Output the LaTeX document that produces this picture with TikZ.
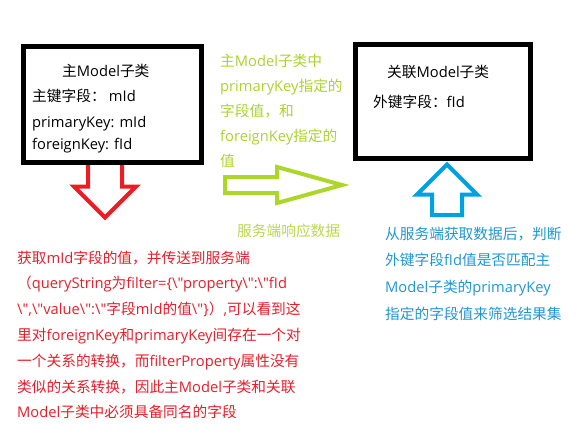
\documentclass[tikz,border=0pt]{standalone}
\usepackage{fontspec}
\setmainfont{Open Sans}
\newfontfamily\cjkfont{Noto Sans CJK SC}
\newfontfamily\latfont{Open Sans}
% switch between Latin and CJK fonts inside a line
\XeTeXinterchartokenstate=1
\newcount\cjkcode
\cjkcode="4E00
\loop
  \XeTeXcharclass\cjkcode=1
  \advance\cjkcode by 1
\ifnum\cjkcode<"A000 \repeat
\XeTeXcharclass`（=2
\XeTeXcharclass`）=3
\XeTeXcharclass`，=3
\XeTeXcharclass`：=3
\XeTeXinterchartoks 0 1 = {\cjkfont}
\XeTeXinterchartoks 0 2 = {\cjkfont}
\XeTeXinterchartoks 0 3 = {\cjkfont}
\XeTeXinterchartoks 4095 1 = {\cjkfont}
\XeTeXinterchartoks 4095 2 = {\cjkfont}
\XeTeXinterchartoks 4095 3 = {\cjkfont}
\XeTeXinterchartoks 1 0 = {\latfont}
\XeTeXinterchartoks 2 0 = {\latfont}
\XeTeXinterchartoks 3 0 = {\latfont}
\XeTeXinterchartoks 4095 0 = {\latfont}
\usepackage{tikz}
\usetikzlibrary{shapes.arrows,positioning}
\definecolor{arrowred}{RGB}{237,28,36}
\definecolor{textred}{RGB}{230,30,42}
\definecolor{arrowgreen}{RGB}{172,214,42}
\definecolor{textgreen}{RGB}{172,210,45}
\definecolor{respgreen}{RGB}{186,214,80}
\definecolor{arrowblue}{RGB}{0,160,228}
\definecolor{textblue}{RGB}{32,150,208}

\begin{document}
\begin{tikzpicture}[
    x=1pt, y=-1pt,
    box/.style={rectangle, draw=black, line width=5pt, inner sep=0pt, outer sep=0pt},
    bigarrow/.style={single arrow, line width=4pt, minimum width=0pt, inner xsep=0pt, outer sep=0pt, anchor=tail},
    boxtext/.style={font=\fontsize{14.7}{18}\selectfont, inner sep=0pt, anchor=base west},
    note/.style={align=left, inner sep=0pt, anchor=north west}
]
    \useasboundingbox (0,0) rectangle (586,442);

    % Block arrows (drawn first, the boxes cover their tails)
    \node[bigarrow, draw=arrowred, rotate=-90, minimum height=55pt, inner ysep=15pt, single arrow head extend=14pt] (sendarrow) at (105,162.5) {};
    \node[bigarrow, draw=arrowgreen, minimum height=117pt, inner ysep=6pt, single arrow head extend=10pt, single arrow tip angle=31] (resparrow) at (225,185) {};
    \node[bigarrow, draw=arrowblue, rotate=90, minimum height=50.5pt, inner ysep=13pt, single arrow head extend=15pt] (filterarrow) at (447,215) {};

    % Main model box
    \node[box, minimum width=178pt, minimum height=116pt] (mainbox) at (112.5,104.5) {};
    \node[boxtext] (maintitle) at (62,76) {主Model子类};
    \node[boxtext] (mainkey) at (32,101) {主键字段： mId};
    \node[boxtext] (mainpk) at (32,127) {primaryKey: mId};
    \node[boxtext] (mainfk) at (32,149) {foreignKey: fId};

    % Associated model box
    \node[box, minimum width=175pt, minimum height=114pt] (subbox) at (443,101.5) {};
    \node[boxtext] (subtitle) at (387,77) {关联Model子类};
    \node[boxtext] (subkey) at (373,107) {外键字段：fId};

    % Notes
    \node[note, text=textgreen, font=\fontsize{14.7}{25}\selectfont] (keynote) at (220,54) {主Model子类中\\primaryKey指定的\\字段值，和\\foreignKey指定的\\值};
    \node[boxtext, text=respgreen] (respnote) at (237,236) {服务端响应数据};
    \node[note, text=textred, font=\fontsize{14.7}{25.8}\selectfont] (sendnote) at (17,250.5) {获取mId字段的值，并传送到服务端\\
（queryString为filter=\{\textbackslash"property\textbackslash":\textbackslash"fId\\
\textbackslash",\textbackslash"value\textbackslash":\textbackslash"字段mId的值\textbackslash"\}）,可以看到这\\
里对foreignKey和primaryKey间存在一个对\\
一个关系的转换，而filterProperty属性没有\\
类似的关系转换，因此主Model子类和关联\\
Model子类中必须具备同名的字段};
    \node[note, text=textblue, font=\fontsize{14.7}{26.7}\selectfont] (filternote) at (385,226.5) {从服务端获取数据后，判断\\外键字段fId值是否匹配主\\Model子类的primaryKey\\指定的字段值来筛选结果集};
\end{tikzpicture}
\end{document}
